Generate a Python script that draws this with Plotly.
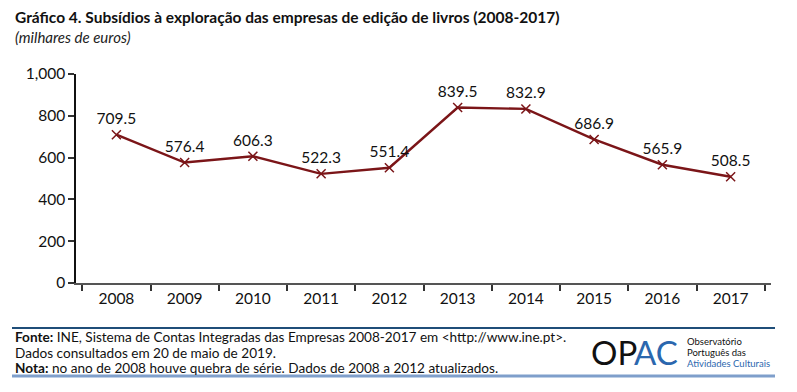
import plotly.graph_objects as go

years = ["2008", "2009", "2010", "2011", "2012", "2013", "2014", "2015", "2016", "2017"]
values = [709.5, 576.4, 606.3, 522.3, 551.4, 839.5, 832.9, 686.9, 565.9, 508.5]
value_labels = ["709.5", "576.4", "606.3", "522.3", "551.4", "839.5", "832.9", "686.9", "565.9", "508.5"]
y_ticks = [0, 200, 400, 600, 800, 1000]
y_tick_labels = ["0", "200", "400", "600", "800", "1,000"]

FONT = "Lato"
RED = "#7b1518"
OFF = 8  # page body margin
W, H = 797 - 2 * OFF, 392 - 2 * OFF
L, R, T, B = 76 - OFF, 26 - OFF, 74 - OFF, 392 - 283 - OFF
PW, PH = W - L - R, H - T - B


def px(x):
    return (x - OFF - L) / PW


def py(y):
    return (H - B - (y - OFF)) / PH


fig = go.Figure()
fig.add_trace(go.Scatter(
    x=years, y=values, mode="lines+markers+text",
    text=value_labels, textposition="top center",
    textfont=dict(family=FONT, size=15.5, color="#111"),
    line=dict(color=RED, width=2.4),
    marker=dict(symbol="x-thin", size=9, line=dict(color=RED, width=1.5), color=RED),
    cliponaxis=False, showlegend=False,
))

fig.update_layout(
    width=W, height=H,
    margin=dict(l=L, r=R, t=T, b=B, autoexpand=False),
    paper_bgcolor="white", plot_bgcolor="white",
    font=dict(family=FONT, size=15, color="#111"),
    xaxis=dict(
        type="category", showgrid=False, showline=True, linecolor="#555", linewidth=2,
        ticks="outside", tickson="boundaries", ticklen=6, tickcolor="#333", tickwidth=1.5,
        tickfont=dict(family=FONT, size=15.5, color="#111"),
    ),
    yaxis=dict(
        range=[0, 1000], tickvals=y_ticks, ticktext=y_tick_labels,
        showgrid=False, showline=True, linecolor="#111", linewidth=1.5,
        ticks="outside", ticklen=6, tickcolor="#333", tickwidth=1.5,
        tickfont=dict(family=FONT, size=15.5, color="#111"), zeroline=False,
    ),
)

ann = [
    dict(text="<b>Gráfico 4. Subsídios à exploração das empresas de edição de livros (2008-2017)</b>",
         x=13, y=17, font=dict(size=15.5, color="#111")),
    dict(text="<i>(milhares de euros)</i>", x=13, y=37, font=dict(size=15, color="#222")),
    dict(text="<b>Fonte:</b> INE, Sistema de Contas Integradas das Empresas 2008-2017 em &lt;http://www.ine.pt&gt;.",
         x=13, y=337, font=dict(size=13.6, color="#111")),
    dict(text="Dados consultados em 20 de maio de 2019.", x=13, y=353, font=dict(size=13.6, color="#111")),
    dict(text="<b>Nota:</b> no ano de 2008 houve quebra de série. Dados de 2008 a 2012 atualizados.",
         x=13, y=368, font=dict(size=13.6, color="#111")),
    dict(text="OP", x=589, y=352, font=dict(size=33, color="#111", family="Lato")),
    dict(text="AC", x=632, y=352, font=dict(size=33, color="#2b67ae", family="Lato")),
    dict(text="Observatório", x=685, y=341, font=dict(size=9.5, color="#111")),
    dict(text="Português das", x=685, y=352, font=dict(size=9.5, color="#111")),
    dict(text="Atividades Culturais", x=685, y=363, font=dict(size=9.5, color="#2b67ae")),
]
for a in ann:
    fig.add_annotation(xref="paper", yref="paper", x=px(a["x"]), y=py(a["y"]),
                       xanchor="left", yanchor="middle", showarrow=False,
                       text=a["text"], font=dict(family=a["font"].get("family", FONT),
                                                 size=a["font"]["size"], color=a["font"]["color"]))

fig.add_shape(type="line", xref="paper", yref="paper", x0=px(12), x1=px(775),
              y0=py(328), y1=py(328), line=dict(color="#1f4e79", width=2))
fig.add_shape(type="line", xref="paper", yref="paper", x0=px(12), x1=px(775),
              y0=py(376), y1=py(376), line=dict(color="#7f9fcb", width=3))

fig.write_html("out.html")
